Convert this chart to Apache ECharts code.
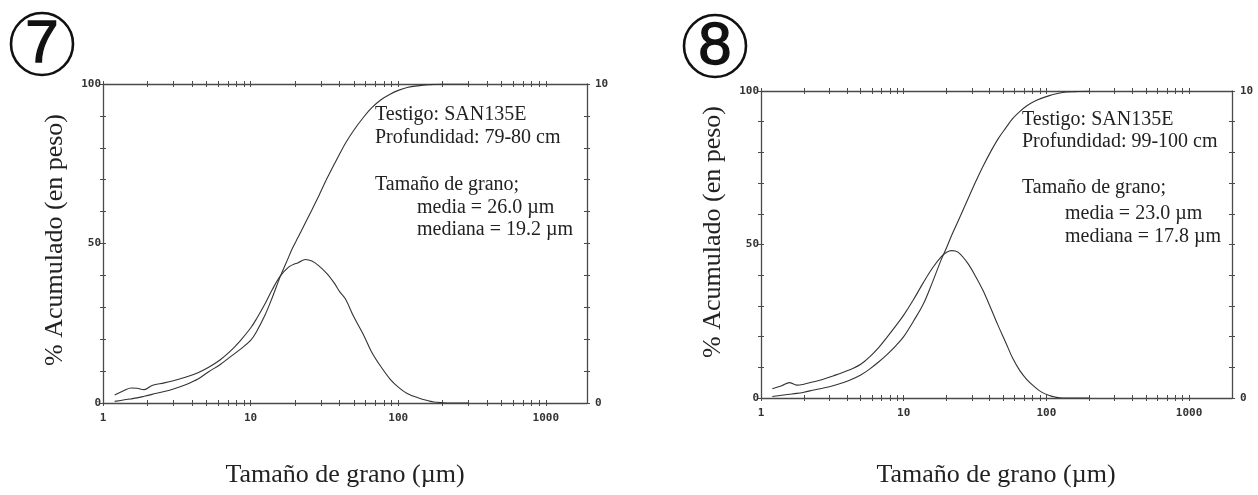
<!DOCTYPE html>
<html><head><meta charset="utf-8">
<script src="https://cdn.jsdelivr.net/npm/echarts@6/dist/echarts.min.js"></script>
<style>html,body{margin:0;padding:0;background:#fff}#c{width:1258px;height:495px}</style>
</head><body><div id="c"></div>
<script>
// ---- data ----
const sizes7 = [1.2, 1.4, 1.55, 1.7, 1.9, 2.15, 2.6, 3, 3.7, 4.4, 5.2, 6.2, 7.2, 8.5, 10, 11, 12.5, 14, 16, 18, 19.2, 21, 23.5, 26, 29, 33, 37, 40, 44, 50, 58, 66, 76, 88, 100, 115, 139, 160, 174, 200, 230, 300];
const cumulative7 = [0.5, 1, 1.3, 1.6, 2.1, 2.7, 3.6, 4.4, 5.9, 7.5, 9.8, 12, 14.3, 16.8, 19.6, 22.5, 27.5, 33, 40, 45.5, 48.5, 52, 56.5, 60.5, 65, 70.5, 75, 78, 81.5, 85.5, 89.5, 92.5, 95, 96.8, 98, 98.9, 99.5, 99.8, 99.9, 100, 100, 100];
const frequency7 = [0.25, 0.4, 0.47, 0.46, 0.42, 0.55, 0.63, 0.7, 0.82, 0.95, 1.12, 1.35, 1.6, 1.95, 2.35, 2.65, 3.1, 3.55, 4.0, 4.25, 4.33, 4.4, 4.5, 4.45, 4.3, 4.05, 3.75, 3.5, 3.25, 2.7, 2.15, 1.6, 1.15, 0.75, 0.5, 0.3, 0.15, 0.07, 0.03, 0.01, 0, 0];

const sizes8 = [1.2, 1.4, 1.58, 1.78, 2, 2.3, 2.7, 3.2, 3.6, 4.1, 5, 5.8, 6.7, 7.7, 8.8, 10, 11.7, 13.7, 16, 18.3, 20, 21.7, 24, 28, 32, 36, 41, 46, 52, 58, 65, 73, 82, 92, 105, 115, 130, 160, 200];
const cumulative8 = [0.5, 0.9, 1.2, 1.5, 1.9, 2.5, 3.2, 4.0, 4.7, 5.6, 7.5, 9.5, 11.8, 14.3, 17, 20, 25, 30.5, 38, 45, 49, 53, 57.5, 64.5, 70.5, 75.5, 80.5, 84.5, 88, 91, 93.3, 95.2, 96.6, 97.6, 98.5, 99, 99.5, 99.8, 100];
const frequency8 = [0.3, 0.4, 0.5, 0.42, 0.45, 0.52, 0.6, 0.72, 0.8, 0.9, 1.1, 1.35, 1.65, 2.0, 2.35, 2.7, 3.2, 3.75, 4.25, 4.6, 4.75, 4.8, 4.75, 4.4, 3.95, 3.5, 2.9, 2.35, 1.8, 1.3, 0.9, 0.6, 0.38, 0.2, 0.08, 0.03, 0, 0, 0];

const xTickValues = [1, 2, 3, 4, 5, 6, 7, 8, 9, 10, 20, 30, 40, 50, 60, 70, 80, 90, 100, 200, 300, 400, 500, 600, 700, 800, 900, 1000];
const xLabelValues = [1, 10, 100, 1000];
const leftTickValues = [0, 10, 20, 30, 40, 50, 60, 70, 80, 90, 100];
const leftLabelValues = [0, 50, 100];
const rightTickValues = [0, 1, 2, 3, 4, 5, 6, 7, 8, 9, 10];
const rightLabelValues = [0, 10];

const info7 = ['Testigo: SAN135E', 'Profundidad: 79-80 cm', 'Tamaño de grano;', 'media = 26.0 µm', 'mediana = 19.2 µm'];
const info8 = ['Testigo: SAN135E', 'Profundidad: 99-100 cm', 'Tamaño de grano;', 'media = 23.0 µm', 'mediana = 17.8 µm'];
const xTitle = 'Tamaño de grano (µm)';
const yTitle = '% Acumulado (en peso)';

// ---- styling ----
const FRAME = '#4a4a4a';
const CURVE = '#333';
const monoLabel = { fontFamily: 'DejaVu Sans Mono', fontWeight: 'bold', fontSize: 11, color: '#333' };
const serif = 'Liberation Serif';
const TICK = 3;

// each side: one axis with the line + inside ticks, one with outside ticks only (ticks cross the frame)
function xAxesFor(gridIndex, maxVal) {
  const base = {
    type: 'log', logBase: 10, min: 1, max: maxVal, gridIndex,
    axisLine: { show: true, onZero: false, lineStyle: { color: FRAME, width: 1.3 } },
    axisTick: { show: true, inside: true, length: TICK, customValues: xTickValues, lineStyle: { color: FRAME, width: 1 } },
    axisLabel: { show: false }, splitLine: { show: false }, minorTick: { show: false }
  };
  const outer = { axisLine: { show: false, onZero: false },
    axisTick: { show: true, inside: false, length: TICK, customValues: xTickValues, lineStyle: { color: FRAME, width: 1 } } };
  return [
    Object.assign({}, base, { position: 'bottom',
      axisLabel: Object.assign({ show: true, margin: 10, customValues: xLabelValues, formatter: v => String(Math.round(v)) }, monoLabel) }),
    Object.assign({}, base, { position: 'top' }),
    Object.assign({}, base, outer, { position: 'bottom' }),
    Object.assign({}, base, outer, { position: 'top' })
  ];
}
function yAxesFor(gridIndex) {
  const mk = (pos, max, interval, ticks, labels, margin, inside, line) => ({
    type: 'value', gridIndex, position: pos, min: 0, max, interval, offset: 0,
    axisLine: { show: line, onZero: false, lineStyle: { color: FRAME, width: 1.3 } },
    axisTick: { show: true, inside, length: TICK, customValues: ticks, lineStyle: { color: FRAME } },
    axisLabel: labels ? Object.assign({ show: true, margin, customValues: labels }, monoLabel) : { show: false },
    splitLine: { show: false }
  });
  return [
    mk('left', 100, 10, leftTickValues, leftLabelValues, 2, true, true),
    mk('right', 10, 1, rightTickValues, rightLabelValues, 8, true, true),
    mk('left', 100, 10, leftTickValues, null, 0, false, false),
    mk('right', 10, 1, rightTickValues, null, 0, false, false)
  ];
}
function line(xs, ys, xi, yi) {
  return { type: 'line', xAxisIndex: xi, yAxisIndex: yi, data: xs.map((x, i) => [x, ys[i]]),
    showSymbol: false, smooth: 0.35, lineStyle: { color: CURVE, width: 1.1 }, silent: true };
}
function infoText(lines, x, xIndent, ys) {
  return lines.map((t, i) => ({ type: 'text', x: i >= 3 ? xIndent : x, y: ys[i],
    style: { text: t, font: '20px "' + serif + '"', fill: '#222', verticalAlign: 'middle', align: 'left' } }));
}
function circled(num, cx, cy) {
  return [
    { type: 'circle', shape: { cx, cy, r: 31 }, style: { fill: 'none', stroke: '#111', lineWidth: 2.6 } },
    { type: 'text', x: cx, y: cy + 1, style: { text: num, font: '60px "Liberation Sans"', fill: '#111', stroke: '#111', lineWidth: 1.3, align: 'center', verticalAlign: 'middle' } }
  ];
}

const chart = echarts.init(document.getElementById('c'), null, { renderer: 'canvas' });
chart.setOption({
  animation: false,
  backgroundColor: '#ffffff',
  grid: [
    { left: 103, top: 84, width: 484, height: 319 },
    { left: 761, top: 91, width: 471, height: 307 }
  ],
  xAxis: [].concat(xAxesFor(0, 1900), xAxesFor(1, 2000)),
  yAxis: [].concat(yAxesFor(0), yAxesFor(1)),
  series: [
    line(sizes7, cumulative7, 0, 0),
    line(sizes7, frequency7, 0, 1),
    line(sizes8, cumulative8, 4, 4),
    line(sizes8, frequency8, 4, 5)
  ],
  graphic: [].concat(
    circled('7', 42, 44),
    circled('8', 715, 46),
    infoText(info7, 375, 417, [115, 138, 185, 208, 230]),
    infoText(info8, 1022, 1065, [120, 142, 188, 214, 237]),
    [
      { type: 'text', x: 345, y: 475, style: { text: xTitle, font: '26px "' + serif + '"', fill: '#222', align: 'center', verticalAlign: 'middle' } },
      { type: 'text', x: 996, y: 475, style: { text: xTitle, font: '26px "' + serif + '"', fill: '#222', align: 'center', verticalAlign: 'middle' } },
      { type: 'text', x: 55, y: 240, rotation: Math.PI / 2, style: { text: yTitle, font: '26px "' + serif + '"', fill: '#222', align: 'center', verticalAlign: 'middle' } },
      { type: 'text', x: 713, y: 232, rotation: Math.PI / 2, style: { text: yTitle, font: '26px "' + serif + '"', fill: '#222', align: 'center', verticalAlign: 'middle' } }
    ]
  )
});
</script></body></html>
